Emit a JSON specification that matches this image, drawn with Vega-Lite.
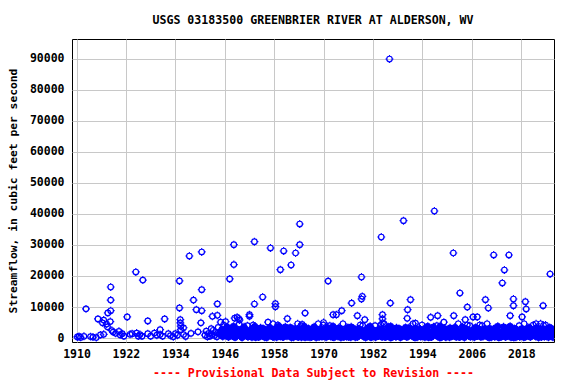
{
"$schema":"https://vega.github.io/schema/vega-lite/v6.json",
"width":482,"height":303,
"autosize":{"type":"none"},
"padding":{"left":72,"top":39,"right":22,"bottom":42},
"background":"white",
"title":{"text":"USGS 03183500 GREENBRIER RIVER AT ALDERSON, WV","font":"DejaVu Sans Mono","fontSize":11.6,"fontWeight":"bold","color":"black","anchor":"middle","offset":12},
"config":{"view":{"stroke":"black","strokeWidth":1}},
"data":{"values":[
{"t":1910.2,"q":350},{"t":1910.6,"q":500},{"t":1911.0,"q":200},{"t":1911.8,"q":550},{"t":1912.3,"q":9400},{"t":1913.4,"q":450},{"t":1914.0,"q":300},{"t":1914.8,"q":150},{"t":1915.2,"q":6150},{"t":1915.8,"q":1000},{"t":1916.3,"q":4900},{"t":1916.6,"q":5800},{"t":1916.6,"q":1200},{"t":1917.3,"q":4500},{"t":1917.5,"q":3600},{"t":1917.6,"q":8100},{"t":1918.2,"q":5300},{"t":1918.3,"q":16450},{"t":1918.3,"q":12250},{"t":1918.3,"q":8800},{"t":1918.6,"q":2400},{"t":1918.9,"q":1900},{"t":1919.5,"q":1500},{"t":1920.3,"q":2150},{"t":1920.6,"q":1000},{"t":1921.1,"q":1400},{"t":1921.5,"q":600},{"t":1922.3,"q":6800},{"t":1923.0,"q":1200},{"t":1923.5,"q":1400},{"t":1924.4,"q":21300},{"t":1924.6,"q":1600},{"t":1925.0,"q":600},{"t":1925.4,"q":1100},{"t":1925.9,"q":600},{"t":1926.1,"q":18700},{"t":1927.3,"q":5500},{"t":1927.3,"q":1400},{"t":1928.0,"q":600},{"t":1928.9,"q":1600},{"t":1929.5,"q":900},{"t":1930.3,"q":2700},{"t":1930.3,"q":1100},{"t":1930.9,"q":600},{"t":1931.4,"q":6150},{"t":1932.3,"q":1400},{"t":1932.8,"q":800},{"t":1933.5,"q":400},{"t":1934.0,"q":1400},{"t":1934.5,"q":900},{"t":1935.0,"q":18400},{"t":1935.0,"q":9700},{"t":1935.2,"q":5900},{"t":1935.2,"q":4900},{"t":1935.3,"q":3800},{"t":1935.3,"q":2700},{"t":1936.0,"q":3300},{"t":1936.0,"q":1100},{"t":1936.5,"q":500},{"t":1937.4,"q":26450},{"t":1937.8,"q":1500},{"t":1938.4,"q":12250},{"t":1939.1,"q":9150},{"t":1939.5,"q":2000},{"t":1940.2,"q":4900},{"t":1940.4,"q":27750},{"t":1940.4,"q":15600},{"t":1940.4,"q":8800},{"t":1943.0,"q":7000},{"t":1944.2,"q":11000},{"t":1944.2,"q":7300},{"t":1945.0,"q":5100},{"t":1946.2,"q":5300},{"t":1947.2,"q":19050},{"t":1948.2,"q":30100},{"t":1948.2,"q":23700},{"t":1948.4,"q":6400},{"t":1949.0,"q":6700},{"t":1949.4,"q":6300},{"t":1949.6,"q":5800},
{"t":1986.0,"q":90000},{"t":1953.2,"q":31070},{"t":1957.1,"q":29040},{"t":1960.3,"q":28070},{"t":1963.2,"q":27420},{"t":1964.2,"q":30100},{"t":1964.2,"q":36780},{"t":1959.5,"q":22040},{"t":1962.1,"q":23550},{"t":1955.2,"q":13230},{"t":1953.2,"q":10970},{"t":1958.3,"q":11070},{"t":1958.3,"q":10100},{"t":1952.0,"q":7520},{"t":1952.0,"q":7000},{"t":1961.2,"q":6230},{"t":1965.5,"q":8060},{"t":1971.1,"q":18380},{"t":1974.4,"q":8810},{"t":1972.3,"q":7520},{"t":1973.1,"q":7520},{"t":1976.8,"q":11280},{"t":1979.2,"q":19680},{"t":1979.4,"q":13430},{"t":1979.2,"q":12580},{"t":1978.2,"q":7200},{"t":1980.0,"q":5900},{"t":1984.0,"q":32580},{"t":1986.2,"q":11280},{"t":1984.3,"q":7520},{"t":1984.3,"q":6200},{"t":1984.3,"q":4900},{"t":1970.0,"q":5000},{"t":1956.5,"q":5100},{"t":1959.1,"q":3800},{"t":1964.8,"q":4400},
{"t":1989.4,"q":37840},{"t":1996.9,"q":40970},{"t":2001.5,"q":27420},{"t":2011.3,"q":26780},{"t":2015.0,"q":26780},{"t":2013.9,"q":21940},{"t":2013.4,"q":17750},{"t":2025.0,"q":20650},{"t":2003.1,"q":14520},{"t":1991.1,"q":12360},{"t":1990.4,"q":9130},{"t":2009.3,"q":12360},{"t":2010.0,"q":9680},{"t":2004.9,"q":9980},{"t":2016.1,"q":12580},{"t":2016.1,"q":10430},{"t":2019.0,"q":11720},{"t":2019.2,"q":9360},{"t":2023.3,"q":10430},{"t":2015.3,"q":7200},{"t":2018.2,"q":6800},{"t":1990.3,"q":6340},{"t":1996.0,"q":6680},{"t":1997.7,"q":7200},{"t":2001.6,"q":7200},{"t":2006.3,"q":6800},{"t":2007.3,"q":6800},{"t":2004.4,"q":5900},{"t":1992.3,"q":4800},{"t":1999.2,"q":5100},{"t":2021.6,"q":4600},{"t":2023.4,"q":4100},
{"t":1941.2,"q":900},{"t":1941.5,"q":2200},{"t":1941.8,"q":400},
{"t":1942.1,"q":1500},{"t":1942.4,"q":600},{"t":1942.7,"q":3000},{"t":1942.9,"q":1100},
{"t":1943.2,"q":2500},{"t":1943.5,"q":800},{"t":1943.8,"q":1800},
{"t":1944.1,"q":400},{"t":1944.4,"q":3400},{"t":1944.6,"q":1300},{"t":1944.9,"q":2000},
{"t":1945.1,"q":1000},{"t":1945.3,"q":2800},{"t":1945.5,"q":500},{"t":1945.7,"q":4200},{"t":1945.9,"q":1600},
{"t":1946.1,"q":2200},{"t":1946.3,"q":700},{"t":1946.5,"q":3600},{"t":1946.7,"q":1200},{"t":1946.9,"q":300},
{"t":1947.1,"q":1400},{"t":1947.3,"q":3100},{"t":1947.5,"q":900},{"t":1947.7,"q":2400},{"t":1947.9,"q":600},
{"t":1948.1,"q":3800},{"t":1948.3,"q":1100},{"t":1948.5,"q":200},{"t":1948.7,"q":2700},{"t":1948.9,"q":1500},
{"t":1949.1,"q":800},{"t":1949.3,"q":2000},{"t":1949.5,"q":4500},{"t":1949.7,"q":1000},{"t":1949.9,"q":2600},
{"t":1950.1,"q":350},{"t":1950.2,"q":150},{"t":1950.3,"q":2100},{"t":1950.5,"q":900},{"t":1950.6,"q":1200},{"t":1950.7,"q":3600},{"t":1950.9,"q":1400},
{"t":1951.1,"q":2600},{"t":1951.2,"q":800},{"t":1951.3,"q":1200},{"t":1951.5,"q":4000},{"t":1951.6,"q":400},{"t":1951.7,"q":500},{"t":1951.9,"q":1900},
{"t":1952.1,"q":1800},{"t":1952.2,"q":1000},{"t":1952.3,"q":600},{"t":1952.5,"q":2900},{"t":1952.6,"q":250},{"t":1952.7,"q":1100},{"t":1952.9,"q":4200},
{"t":1953.1,"q":1300},{"t":1953.2,"q":600},{"t":1953.3,"q":3800},{"t":1953.5,"q":200},{"t":1953.6,"q":1500},{"t":1953.7,"q":2000},{"t":1953.9,"q":950},
{"t":1954.1,"q":1000},{"t":1954.2,"q":300},{"t":1954.3,"q":2300},{"t":1954.5,"q":450},{"t":1954.6,"q":900},{"t":1954.7,"q":3300},{"t":1954.9,"q":1600},
{"t":1955.1,"q":700},{"t":1955.2,"q":1100},{"t":1955.3,"q":3100},{"t":1955.5,"q":1500},{"t":1955.6,"q":700},{"t":1955.7,"q":250},{"t":1955.9,"q":2500},
{"t":1956.1,"q":550},{"t":1956.2,"q":150},{"t":1956.3,"q":1650},{"t":1956.5,"q":2800},{"t":1956.6,"q":1200},{"t":1956.7,"q":750},{"t":1956.9,"q":3400},
{"t":1957.1,"q":3000},{"t":1957.2,"q":800},{"t":1957.3,"q":800},{"t":1957.5,"q":1700},{"t":1957.6,"q":400},{"t":1957.7,"q":4600},{"t":1957.9,"q":300},
{"t":1958.1,"q":1800},{"t":1958.2,"q":1000},{"t":1958.3,"q":600},{"t":1958.5,"q":2900},{"t":1958.6,"q":250},{"t":1958.7,"q":1100},{"t":1958.9,"q":4200},
{"t":1959.1,"q":1000},{"t":1959.2,"q":600},{"t":1959.3,"q":2300},{"t":1959.5,"q":450},{"t":1959.6,"q":1500},{"t":1959.7,"q":3300},{"t":1959.9,"q":1600},
{"t":1960.1,"q":350},{"t":1960.2,"q":300},{"t":1960.3,"q":2100},{"t":1960.5,"q":900},{"t":1960.6,"q":900},{"t":1960.7,"q":3600},{"t":1960.9,"q":1400},
{"t":1961.1,"q":550},{"t":1961.2,"q":1100},{"t":1961.3,"q":1650},{"t":1961.5,"q":2800},{"t":1961.6,"q":700},{"t":1961.7,"q":750},{"t":1961.9,"q":3400},
{"t":1962.1,"q":700},{"t":1962.2,"q":150},{"t":1962.3,"q":3100},{"t":1962.5,"q":1500},{"t":1962.6,"q":1200},{"t":1962.7,"q":250},{"t":1962.9,"q":2500},
{"t":1963.1,"q":3000},{"t":1963.2,"q":800},{"t":1963.3,"q":800},{"t":1963.5,"q":1700},{"t":1963.6,"q":400},{"t":1963.7,"q":4600},{"t":1963.9,"q":300},
{"t":1964.1,"q":2600},{"t":1964.2,"q":1000},{"t":1964.3,"q":1200},{"t":1964.5,"q":4000},{"t":1964.6,"q":250},{"t":1964.7,"q":500},{"t":1964.9,"q":1900},
{"t":1965.1,"q":1300},{"t":1965.2,"q":600},{"t":1965.3,"q":3800},{"t":1965.5,"q":200},{"t":1965.6,"q":1500},{"t":1965.7,"q":2000},{"t":1965.9,"q":950},
{"t":1966.1,"q":700},{"t":1966.2,"q":300},{"t":1966.3,"q":3100},{"t":1966.5,"q":1500},{"t":1966.6,"q":900},{"t":1966.7,"q":250},{"t":1966.9,"q":2500},
{"t":1967.1,"q":350},{"t":1967.2,"q":1100},{"t":1967.3,"q":2100},{"t":1967.5,"q":900},{"t":1967.6,"q":700},{"t":1967.7,"q":3600},{"t":1967.9,"q":1400},
{"t":1968.1,"q":3000},{"t":1968.2,"q":150},{"t":1968.3,"q":800},{"t":1968.5,"q":1700},{"t":1968.6,"q":1200},{"t":1968.7,"q":4600},{"t":1968.9,"q":300},
{"t":1969.1,"q":1800},{"t":1969.2,"q":800},{"t":1969.3,"q":600},{"t":1969.5,"q":2900},{"t":1969.6,"q":400},{"t":1969.7,"q":1100},{"t":1969.9,"q":4200},
{"t":1970.1,"q":550},{"t":1970.2,"q":1000},{"t":1970.3,"q":1650},{"t":1970.5,"q":2800},{"t":1970.6,"q":250},{"t":1970.7,"q":750},{"t":1970.9,"q":3400},
{"t":1971.1,"q":2600},{"t":1971.2,"q":600},{"t":1971.3,"q":1200},{"t":1971.5,"q":4000},{"t":1971.6,"q":1500},{"t":1971.7,"q":500},{"t":1971.9,"q":1900},
{"t":1972.1,"q":1300},{"t":1972.2,"q":300},{"t":1972.3,"q":3800},{"t":1972.5,"q":200},{"t":1972.6,"q":900},{"t":1972.7,"q":2000},{"t":1972.9,"q":950},
{"t":1973.1,"q":1000},{"t":1973.2,"q":1100},{"t":1973.3,"q":2300},{"t":1973.5,"q":450},{"t":1973.6,"q":700},{"t":1973.7,"q":3300},{"t":1973.9,"q":1600},
{"t":1974.1,"q":3000},{"t":1974.2,"q":150},{"t":1974.3,"q":800},{"t":1974.5,"q":1700},{"t":1974.6,"q":1200},{"t":1974.7,"q":4600},{"t":1974.9,"q":300},
{"t":1975.1,"q":550},{"t":1975.2,"q":800},{"t":1975.3,"q":1650},{"t":1975.5,"q":2800},{"t":1975.6,"q":400},{"t":1975.7,"q":750},{"t":1975.9,"q":3400},
{"t":1976.1,"q":350},{"t":1976.2,"q":1000},{"t":1976.3,"q":2100},{"t":1976.5,"q":900},{"t":1976.6,"q":250},{"t":1976.7,"q":3600},{"t":1976.9,"q":1400},
{"t":1977.1,"q":700},{"t":1977.2,"q":600},{"t":1977.3,"q":3100},{"t":1977.5,"q":1500},{"t":1977.6,"q":1500},{"t":1977.7,"q":250},{"t":1977.9,"q":2500},
{"t":1978.1,"q":1800},{"t":1978.2,"q":300},{"t":1978.3,"q":600},{"t":1978.5,"q":2900},{"t":1978.6,"q":900},{"t":1978.7,"q":1100},{"t":1978.9,"q":4200},
{"t":1979.1,"q":2600},{"t":1979.2,"q":1100},{"t":1979.3,"q":1200},{"t":1979.5,"q":4000},{"t":1979.6,"q":700},{"t":1979.7,"q":500},{"t":1979.9,"q":1900},
{"t":1980.1,"q":1000},{"t":1980.2,"q":150},{"t":1980.3,"q":2300},{"t":1980.5,"q":450},{"t":1980.6,"q":1200},{"t":1980.7,"q":3300},{"t":1980.9,"q":1600},
{"t":1981.1,"q":1300},{"t":1981.2,"q":800},{"t":1981.3,"q":3800},{"t":1981.5,"q":200},{"t":1981.6,"q":400},{"t":1981.7,"q":2000},{"t":1981.9,"q":950},
{"t":1982.1,"q":2600},{"t":1982.2,"q":1000},{"t":1982.3,"q":1200},{"t":1982.5,"q":4000},{"t":1982.6,"q":250},{"t":1982.7,"q":500},{"t":1982.9,"q":1900},
{"t":1983.1,"q":1800},{"t":1983.2,"q":600},{"t":1983.3,"q":600},{"t":1983.5,"q":2900},{"t":1983.6,"q":1500},{"t":1983.7,"q":1100},{"t":1983.9,"q":4200},
{"t":1984.1,"q":3000},{"t":1984.2,"q":300},{"t":1984.3,"q":800},{"t":1984.5,"q":1700},{"t":1984.6,"q":900},{"t":1984.7,"q":4600},{"t":1984.9,"q":300},
{"t":1985.1,"q":350},{"t":1985.2,"q":1100},{"t":1985.3,"q":2100},{"t":1985.5,"q":900},{"t":1985.6,"q":700},{"t":1985.7,"q":3600},{"t":1985.9,"q":1400},
{"t":1986.1,"q":1300},{"t":1986.2,"q":150},{"t":1986.3,"q":3800},{"t":1986.5,"q":200},{"t":1986.6,"q":1200},{"t":1986.7,"q":2000},{"t":1986.9,"q":950},
{"t":1987.1,"q":1000},{"t":1987.2,"q":800},{"t":1987.3,"q":2300},{"t":1987.5,"q":450},{"t":1987.6,"q":400},{"t":1987.7,"q":3300},{"t":1987.9,"q":1600},
{"t":1988.1,"q":700},{"t":1988.2,"q":1000},{"t":1988.3,"q":3100},{"t":1988.5,"q":1500},{"t":1988.6,"q":250},{"t":1988.7,"q":250},{"t":1988.9,"q":2500},
{"t":1989.1,"q":550},{"t":1989.2,"q":600},{"t":1989.3,"q":1650},{"t":1989.5,"q":2800},{"t":1989.6,"q":1500},{"t":1989.7,"q":750},{"t":1989.9,"q":3400},
{"t":1990.1,"q":1000},{"t":1990.2,"q":300},{"t":1990.3,"q":2300},{"t":1990.5,"q":450},{"t":1990.6,"q":900},{"t":1990.7,"q":3300},{"t":1990.9,"q":1600},
{"t":1991.1,"q":3000},{"t":1991.2,"q":1100},{"t":1991.3,"q":800},{"t":1991.5,"q":1700},{"t":1991.6,"q":700},{"t":1991.7,"q":4600},{"t":1991.9,"q":300},
{"t":1992.1,"q":700},{"t":1992.2,"q":150},{"t":1992.3,"q":3100},{"t":1992.5,"q":1500},{"t":1992.6,"q":1200},{"t":1992.7,"q":250},{"t":1992.9,"q":2500},
{"t":1993.1,"q":1800},{"t":1993.2,"q":800},{"t":1993.3,"q":600},{"t":1993.5,"q":2900},{"t":1993.6,"q":400},{"t":1993.7,"q":1100},{"t":1993.9,"q":4200},
{"t":1994.1,"q":550},{"t":1994.2,"q":1000},{"t":1994.3,"q":1650},{"t":1994.5,"q":2800},{"t":1994.6,"q":250},{"t":1994.7,"q":750},{"t":1994.9,"q":3400},
{"t":1995.1,"q":1300},{"t":1995.2,"q":600},{"t":1995.3,"q":3800},{"t":1995.5,"q":200},{"t":1995.6,"q":1500},{"t":1995.7,"q":2000},{"t":1995.9,"q":950},
{"t":1996.1,"q":350},{"t":1996.2,"q":300},{"t":1996.3,"q":2100},{"t":1996.5,"q":900},{"t":1996.6,"q":900},{"t":1996.7,"q":3600},{"t":1996.9,"q":1400},
{"t":1997.1,"q":2600},{"t":1997.2,"q":1100},{"t":1997.3,"q":1200},{"t":1997.5,"q":4000},{"t":1997.6,"q":700},{"t":1997.7,"q":500},{"t":1997.9,"q":1900},
{"t":1998.1,"q":1300},{"t":1998.2,"q":150},{"t":1998.3,"q":3800},{"t":1998.5,"q":200},{"t":1998.6,"q":1200},{"t":1998.7,"q":2000},{"t":1998.9,"q":950},
{"t":1999.1,"q":700},{"t":1999.2,"q":800},{"t":1999.3,"q":3100},{"t":1999.5,"q":1500},{"t":1999.6,"q":400},{"t":1999.7,"q":250},{"t":1999.9,"q":2500},
{"t":2000.1,"q":1000},{"t":2000.2,"q":1000},{"t":2000.3,"q":2300},{"t":2000.5,"q":450},{"t":2000.6,"q":250},{"t":2000.7,"q":3300},{"t":2000.9,"q":1600},
{"t":2001.1,"q":550},{"t":2001.2,"q":600},{"t":2001.3,"q":1650},{"t":2001.5,"q":2800},{"t":2001.6,"q":1500},{"t":2001.7,"q":750},{"t":2001.9,"q":3400},
{"t":2002.1,"q":3000},{"t":2002.2,"q":300},{"t":2002.3,"q":800},{"t":2002.5,"q":1700},{"t":2002.6,"q":900},{"t":2002.7,"q":4600},{"t":2002.9,"q":300},
{"t":2003.1,"q":350},{"t":2003.2,"q":1100},{"t":2003.3,"q":2100},{"t":2003.5,"q":900},{"t":2003.6,"q":700},{"t":2003.7,"q":3600},{"t":2003.9,"q":1400},
{"t":2004.1,"q":1800},{"t":2004.2,"q":150},{"t":2004.3,"q":600},{"t":2004.5,"q":2900},{"t":2004.6,"q":1200},{"t":2004.7,"q":1100},{"t":2004.9,"q":4200},
{"t":2005.1,"q":2600},{"t":2005.2,"q":800},{"t":2005.3,"q":1200},{"t":2005.5,"q":4000},{"t":2005.6,"q":400},{"t":2005.7,"q":500},{"t":2005.9,"q":1900},
{"t":2006.1,"q":550},{"t":2006.2,"q":1000},{"t":2006.3,"q":1650},{"t":2006.5,"q":2800},{"t":2006.6,"q":250},{"t":2006.7,"q":750},{"t":2006.9,"q":3400},
{"t":2007.1,"q":1800},{"t":2007.2,"q":600},{"t":2007.3,"q":600},{"t":2007.5,"q":2900},{"t":2007.6,"q":1500},{"t":2007.7,"q":1100},{"t":2007.9,"q":4200},
{"t":2008.1,"q":2600},{"t":2008.2,"q":300},{"t":2008.3,"q":1200},{"t":2008.5,"q":4000},{"t":2008.6,"q":900},{"t":2008.7,"q":500},{"t":2008.9,"q":1900},
{"t":2009.1,"q":3000},{"t":2009.2,"q":1100},{"t":2009.3,"q":800},{"t":2009.5,"q":1700},{"t":2009.6,"q":700},{"t":2009.7,"q":4600},{"t":2009.9,"q":300},
{"t":2010.1,"q":700},{"t":2010.2,"q":150},{"t":2010.3,"q":3100},{"t":2010.5,"q":1500},{"t":2010.6,"q":1200},{"t":2010.7,"q":250},{"t":2010.9,"q":2500},
{"t":2011.1,"q":1000},{"t":2011.2,"q":800},{"t":2011.3,"q":2300},{"t":2011.5,"q":450},{"t":2011.6,"q":400},{"t":2011.7,"q":3300},{"t":2011.9,"q":1600},
{"t":2012.1,"q":1300},{"t":2012.2,"q":1000},{"t":2012.3,"q":3800},{"t":2012.5,"q":200},{"t":2012.6,"q":250},{"t":2012.7,"q":2000},{"t":2012.9,"q":950},
{"t":2013.1,"q":350},{"t":2013.2,"q":600},{"t":2013.3,"q":2100},{"t":2013.5,"q":900},{"t":2013.6,"q":1500},{"t":2013.7,"q":3600},{"t":2013.9,"q":1400},
{"t":2014.1,"q":550},{"t":2014.2,"q":300},{"t":2014.3,"q":1650},{"t":2014.5,"q":2800},{"t":2014.6,"q":900},{"t":2014.7,"q":750},{"t":2014.9,"q":3400},
{"t":2015.1,"q":1300},{"t":2015.2,"q":1100},{"t":2015.3,"q":3800},{"t":2015.5,"q":200},{"t":2015.6,"q":700},{"t":2015.7,"q":2000},{"t":2015.9,"q":950},
{"t":2016.1,"q":700},{"t":2016.2,"q":150},{"t":2016.3,"q":3100},{"t":2016.5,"q":1500},{"t":2016.6,"q":1200},{"t":2016.7,"q":250},{"t":2016.9,"q":2500},
{"t":2017.1,"q":2600},{"t":2017.2,"q":800},{"t":2017.3,"q":1200},{"t":2017.5,"q":4000},{"t":2017.6,"q":400},{"t":2017.7,"q":500},{"t":2017.9,"q":1900},
{"t":2018.1,"q":3000},{"t":2018.2,"q":1000},{"t":2018.3,"q":800},{"t":2018.5,"q":1700},{"t":2018.6,"q":250},{"t":2018.7,"q":4600},{"t":2018.9,"q":300},
{"t":2019.1,"q":550},{"t":2019.2,"q":600},{"t":2019.3,"q":1650},{"t":2019.5,"q":2800},{"t":2019.6,"q":1500},{"t":2019.7,"q":750},{"t":2019.9,"q":3400},
{"t":2020.1,"q":1800},{"t":2020.2,"q":300},{"t":2020.3,"q":600},{"t":2020.5,"q":2900},{"t":2020.6,"q":900},{"t":2020.7,"q":1100},{"t":2020.9,"q":4200},
{"t":2021.1,"q":1000},{"t":2021.2,"q":1100},{"t":2021.3,"q":2300},{"t":2021.5,"q":450},{"t":2021.6,"q":700},{"t":2021.7,"q":3300},{"t":2021.9,"q":1600},
{"t":2022.1,"q":3000},{"t":2022.2,"q":150},{"t":2022.3,"q":800},{"t":2022.5,"q":1700},{"t":2022.6,"q":1200},{"t":2022.7,"q":4600},{"t":2022.9,"q":300},
{"t":2023.1,"q":1800},{"t":2023.2,"q":800},{"t":2023.3,"q":600},{"t":2023.5,"q":2900},{"t":2023.6,"q":400},{"t":2023.7,"q":1100},{"t":2023.9,"q":4200},
{"t":2024.1,"q":550},{"t":2024.2,"q":1000},{"t":2024.3,"q":1650},{"t":2024.5,"q":2800},{"t":2024.6,"q":250},{"t":2024.7,"q":750},{"t":2024.9,"q":3400},
{"t":2025.1,"q":700},{"t":2025.2,"q":600},{"t":2025.3,"q":3100},{"t":2025.5,"q":1500},{"t":2025.6,"q":1500},{"t":2025.7,"q":250},{"t":2025.9,"q":2500}
]},
"encoding":{
"x":{"field":"t","type":"quantitative","scale":{"domain":[1908.9,2025.95],"nice":false,"zero":false},
"axis":{"values":[1910,1922,1934,1946,1958,1970,1982,1994,2006,2018],"format":"d","grid":true,"gridColor":"#c8c8c8","gridWidth":1,"ticks":false,"domain":false,"labelFont":"DejaVu Sans Mono","labelFontWeight":"bold","labelFontSize":11.5,"labelColor":"black","labelPadding":6,"labelFlush":false,"labelOverlap":false,"title":"---- Provisional Data Subject to Revision ----","titleColor":"#ff0000","titleFont":"DejaVu Sans Mono","titleFontSize":11.6,"titleFontWeight":"bold","titlePadding":8}},
"y":{"field":"q","type":"quantitative","scale":{"domain":[-1290,96450],"nice":false,"zero":false},
"axis":{"values":[0,10000,20000,30000,40000,50000,60000,70000,80000,90000],"format":"d","grid":true,"gridColor":"#c8c8c8","gridWidth":1,"ticks":false,"domain":false,"labelFont":"DejaVu Sans Mono","labelFontWeight":"bold","labelFontSize":11.5,"labelColor":"black","labelPadding":8,"labelOverlap":false,"title":"Streamflow, in cubic feet per second","titleColor":"black","titleFont":"DejaVu Sans Mono","titleFontSize":11.3,"titleFontWeight":"bold","titlePadding":11}}
},
"layer":[
{"mark":{"type":"point","shape":"M-1,0A1,1,0,1,1,1,0A1,1,0,1,1,-1,0M0,-1L0,-1.45M0,1L0,1.45M-1,0L-1.45,0M1,0L1.45,0","filled":false,"color":"#0000ff","size":30,"strokeWidth":1.2,"opacity":1,"clip":true}},
{"transform":[{"filter":"datum.q <= 3800 && datum.t >= 1945"}],
"mark":{"type":"point","shape":"circle","filled":true,"color":"#0000ff","size":34,"opacity":1,"clip":true}}
]
}
